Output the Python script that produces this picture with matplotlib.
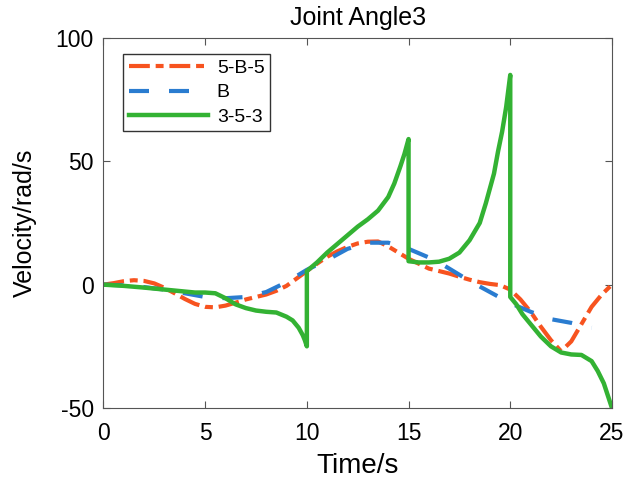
import matplotlib
matplotlib.use("Agg")
import matplotlib.pyplot as plt

plt.rcParams["font.family"] = ["Liberation Sans", "DejaVu Sans"]
plt.rcParams["axes.unicode_minus"] = False

# 5-B-5 trajectory
t_orange = [0, 0.5, 1, 1.5, 2, 2.5, 3, 3.5, 4, 4.5, 5, 5.5, 6, 6.5, 7, 7.5, 8, 8.5, 9,
            9.5, 10, 10.5, 11, 11.5, 12, 12.5, 13, 13.5, 14, 14.5, 15, 15.5, 16, 16.5,
            17, 17.5, 18, 18.5, 19, 19.5, 20, 20.5, 21, 21.5, 22, 22.5, 23, 23.5, 24,
            24.5, 25]
v_orange = [0, 0.6, 1.4, 1.8, 1.5, 0.5, -1.3, -3.5, -5.8, -7.8, -9, -9.2, -8.5, -7.3,
            -6, -5, -4, -2.5, -0.5, 2.5, 5.5, 8.5, 11.3, 13.5, 15.3, 16.7, 17.4, 17.5,
            15.5, 13, 10.5, 8.5, 6.5, 5.5, 4.5, 3.2, 2, 1, 0.3, -0.2, -2, -6, -11, -17,
            -22.5, -27, -23, -16, -9, -4, 0]

# B-spline trajectory
t_blue = [0, 1, 2, 3, 4, 5, 6, 7, 8, 9, 10, 11, 12, 13, 14, 14.5, 15, 16, 16.5, 17,
          18, 19, 20, 21, 22, 23, 24]
v_blue = [0, -0.3, -1, -2, -3.5, -5, -5.5, -5, -3, 1, 6, 10, 14.5, 17, 17, 15.8, 14.5,
          11, 9, 6.5, 1.5, -3, -7.5, -11, -14, -15.5, -17.5]

# 3-5-3 trajectory
t_green = [0, 1, 2, 3, 4, 4.5, 5, 5.5, 6, 6.5, 7, 7.5, 8, 8.5, 9, 9.3, 9.6, 9.8, 9.9, 10,
           10, 10.5, 11, 11.5, 12, 12.5, 13, 13.5, 14, 14.3, 14.6, 14.8, 15,
           15, 15.5, 16, 16.5, 17, 17.5, 18, 18.5, 18.8, 19, 19.2, 19.4, 19.6, 19.8, 20,
           20, 20.3, 20.6, 21, 21.5, 22, 22.5, 23, 23.5, 24, 24.3, 24.6, 24.8, 25]
v_green = [0, -0.5, -1.2, -2, -2.8, -3.2, -3.2, -3.5, -5.5, -8, -9.5, -10.5, -11, -11.3,
           -13, -14.5, -17.5, -20.5, -22.5, -25,
           5.5, 9, 13, 16.5, 20, 23.5, 26.5, 30, 35.5, 41, 48, 53, 59,
           9.5, 9, 9, 9.3, 10.5, 13, 18, 25, 33, 39, 45, 54, 62, 72, 85,
           -5, -8, -12, -16, -21, -25, -27.5, -28.3, -28.5, -31, -35, -40, -45, -50]

fig = plt.figure(figsize=(6.27, 4.8), dpi=100)
ax = fig.add_axes([0.165, 0.15, 0.811, 0.771])

ax.plot(t_orange, v_orange, color="#F7531F", linewidth=3,
        linestyle=(0, (5, 1.4, 1.9, 1.4)), label="5-B-5")
ax.plot(t_blue, v_blue, color="#2A7CD0", linewidth=3,
        linestyle=(0, (4.8, 4.8)), label="B")
ax.plot(t_green, v_green, color="#33B233", linewidth=3.2, label="3-5-3")

ax.set_xlim(0, 25)
ax.set_ylim(-50, 100)
ax.set_xticks([0, 5, 10, 15, 20, 25])
ax.set_yticks([-50, 0, 50, 100])
ax.tick_params(direction="in", top=True, right=True, labelsize=16.5, length=5,
               color="#555555")
ax.tick_params(axis="x", pad=10)
ax.tick_params(axis="y", pad=7)
for spine in ax.spines.values():
    spine.set_color("#555555")
ax.set_xlabel("Time/s", fontsize=20, labelpad=6)
ax.set_ylabel("Velocity/rad/s", fontsize=18)
ax.yaxis.set_label_coords(-0.13, 0.5)
ax.set_title("Joint Angle3", fontsize=18, pad=9)
ax.legend(loc="upper left", bbox_to_anchor=(0.039, 0.957), borderaxespad=0,
          fontsize=14, frameon=True, fancybox=False, edgecolor="#333333",
          framealpha=1, handlelength=4.1, handletextpad=0.43, borderpad=0.28,
          labelspacing=0.35)

fig.savefig("out.png", dpi=100)
